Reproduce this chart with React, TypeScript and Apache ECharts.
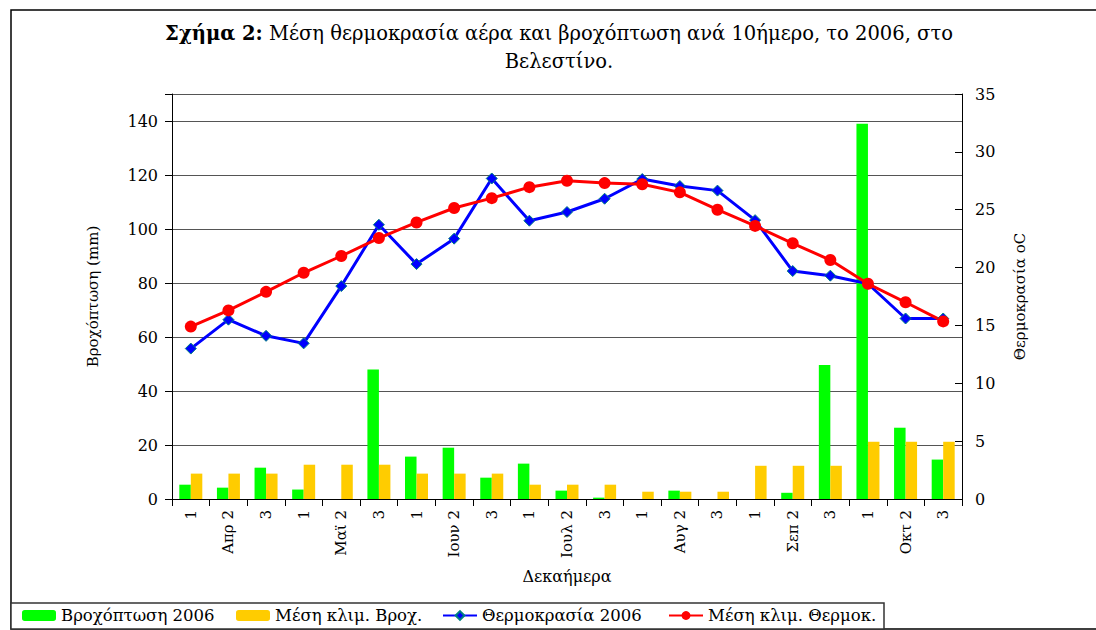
import React, { useEffect, useRef } from "react";
import * as echarts from "echarts";

const categories = [
  "1", "Απρ 2", "3",
  "1", "Μαϊ 2", "3",
  "1", "Ιουν 2", "3",
  "1", "Ιουλ 2", "3",
  "1", "Αυγ 2", "3",
  "1", "Σεπ 2", "3",
  "1", "Οκτ 2", "3",
];

const rain2006 = [5.3, 4.2, 11.6, 3.5, 0, 48, 15.7, 19.0, 7.9, 13.1, 3.1, 0.5, 0, 3.1, 0, 0, 2.3, 49.6, 139, 26.4, 14.6];
const rainClim = [9.4, 9.4, 9.4, 12.7, 12.7, 12.7, 9.4, 9.4, 9.4, 5.3, 5.3, 5.3, 2.7, 2.7, 2.7, 12.3, 12.3, 12.3, 21.2, 21.2, 21.2];
const temp2006 = [13.0, 15.5, 14.1, 13.45, 18.4, 23.7, 20.3, 22.5, 27.7, 24.05, 24.8, 25.95, 27.65, 27.05, 26.65, 24.1, 19.7, 19.3, 18.6, 15.6, 15.6];
const tempClim = [14.9, 16.3, 17.9, 19.55, 21.0, 22.55, 23.9, 25.15, 26.0, 26.95, 27.5, 27.3, 27.2, 26.5, 25.0, 23.6, 22.1, 20.65, 18.6, 17.0, 15.35];

const seriesNames = ["Βροχόπτωση 2006", "Μέση κλιμ. Βροχ.", "Θερμοκρασία 2006", "Μέση κλιμ. Θερμοκ."];
const titleLine1Bold = "Σχήμα 2:";
const titleLine1 = " Μέση θερμοκρασία αέρα και βροχόπτωση ανά 10ήμερο, το 2006, στο";
const titleLine2 = "Βελεστίνο.";

const FONT = "DejaVu Serif";

export default function App() {
  const ref = useRef<HTMLDivElement>(null);
  useEffect(() => {
    if (!ref.current) return;
    const chart = echarts.init(ref.current, null, { renderer: "svg" });
    const legendLefts = [22, 236, 442, 668];
    chart.setOption({
      animation: false,
      backgroundColor: "#ffffff",
      textStyle: { fontFamily: FONT },
      grid: { left: 172, right: 134, top: 94, bottom: 131, containLabel: false },
      graphic: [
        {
          type: "rect",
          z: 0,
          shape: { x: 11, y: 10, width: 1200, height: 619 },
          style: { fill: "none", stroke: "#000", lineWidth: 1.5 },
        },
        {
          type: "rect",
          z: 1,
          shape: { x: 11, y: 603, width: 873, height: 26 },
          style: { fill: "#fff", stroke: "#333", lineWidth: 1.5 },
        },
        {
          type: "text",
          x: 559,
          y: 33,
          style: {
            text: "{b|" + titleLine1Bold + "}{n|" + titleLine1 + "}",
            align: "center",
            verticalAlign: "middle",
            rich: {
              b: { fontFamily: FONT, fontSize: 19.5, fontWeight: "bold", fill: "#000" },
              n: { fontFamily: FONT, fontSize: 19.5, fill: "#000" },
            },
          },
        },
        {
          type: "text",
          x: 559,
          y: 61,
          style: {
            text: titleLine2,
            align: "center",
            verticalAlign: "middle",
            fontFamily: FONT,
            fontSize: 19.5,
            fill: "#000",
          },
        },
      ],
      legend: seriesNames.map((n, i) => ({
        data: [n],
        left: legendLefts[i],
        top: 607,
        itemWidth: 34,
        itemHeight: 11,
        itemGap: 6,
        padding: 0,
        textStyle: { fontFamily: FONT, fontSize: 16.5, color: "#000" },
      })),
      xAxis: {
        type: "category",
        data: categories,
        name: "Δεκαήμερα",
        nameLocation: "middle",
        nameGap: 69,
        nameTextStyle: { fontFamily: FONT, fontSize: 16, color: "#000", verticalAlign: "top" },
        axisLine: { lineStyle: { color: "#000", width: 1 } },
        axisTick: { show: true, length: 7, alignWithLabel: false, lineStyle: { color: "#000" } },
        axisLabel: { rotate: 90, interval: 0, margin: 11, fontFamily: FONT, fontSize: 15, color: "#000" },
      },
      yAxis: [
        {
          type: "value",
          min: 0,
          max: 150,
          interval: 20,
          name: "Βροχόπτωση (mm)",
          nameLocation: "middle",
          nameRotate: 90,
          nameGap: 72,
          nameTextStyle: { fontFamily: FONT, fontSize: 15, color: "#000" },
          axisLine: { show: true, lineStyle: { color: "#000", width: 1 } },
          axisTick: { show: true, length: 7, lineStyle: { color: "#000" } },
          axisLabel: {
            margin: 14,
            fontFamily: FONT,
            fontSize: 16,
            color: "#000",
            formatter: (v: number) => (v > 140 ? "" : String(v)),
          },
          splitLine: { show: true, lineStyle: { color: "#555", width: 1 } },
        },
        {
          type: "value",
          min: 0,
          max: 35,
          interval: 5,
          position: "right",
          name: "Θερμοκρασία oC",
          nameLocation: "middle",
          nameRotate: 90,
          nameGap: 50,
          nameTextStyle: { fontFamily: FONT, fontSize: 15, color: "#000" },
          axisLine: { show: true, lineStyle: { color: "#000", width: 1 } },
          axisTick: { show: true, inside: true, length: 7, lineStyle: { color: "#000" } },
          axisLabel: { margin: 13, fontFamily: FONT, fontSize: 16, color: "#000" },
          splitLine: { show: false },
        },
      ],
      series: [
        {
          name: seriesNames[0],
          type: "bar",
          yAxisIndex: 0,
          data: rain2006,
          barWidth: 11.5,
          barGap: "0%",
          itemStyle: { color: "#00ff00" },
        },
        {
          name: seriesNames[1],
          type: "bar",
          yAxisIndex: 0,
          data: rainClim,
          barWidth: 11.5,
          barGap: "0%",
          itemStyle: { color: "#ffcc00" },
        },
        {
          name: seriesNames[2],
          type: "line",
          yAxisIndex: 1,
          data: temp2006,
          symbol: "diamond",
          symbolSize: 11,
          lineStyle: { color: "#0000ff", width: 3 },
          itemStyle: { color: "#0000ff", borderColor: "#008080", borderWidth: 1 },
        },
        {
          name: seriesNames[3],
          type: "line",
          yAxisIndex: 1,
          data: tempClim,
          symbol: "circle",
          symbolSize: 12,
          lineStyle: { color: "#ff0000", width: 3 },
          itemStyle: { color: "#ff0000" },
        },
      ],
    });
    return () => chart.dispose();
  }, []);
  return (
    <div
      ref={ref}
      style={{ position: "fixed", left: 0, top: 0, width: 1096, height: 630 }}
    />
  );
}
